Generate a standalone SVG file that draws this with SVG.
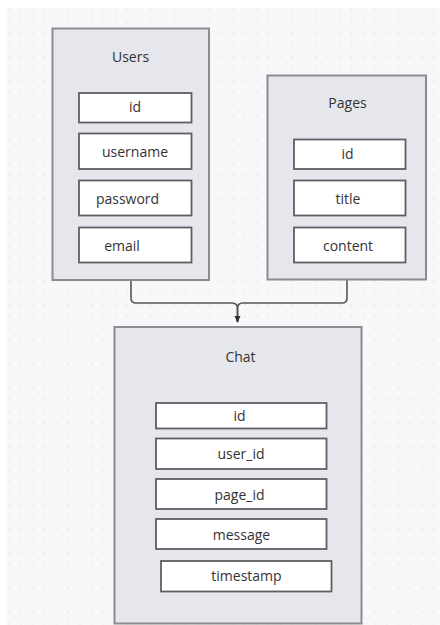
<svg xmlns="http://www.w3.org/2000/svg" width="440" height="625" viewBox="0 0 440 625">
<defs>
<pattern id="dots" x="3" y="4" width="11.8" height="11.8" patternUnits="userSpaceOnUse">
<circle cx="6" cy="6" r="0.8" fill="#dedee3"/>
</pattern>
<marker id="arr" markerWidth="8" markerHeight="8" refX="6" refY="4" orient="auto" markerUnits="userSpaceOnUse">
<path d="M0,1 L7,4 L0,7 Z" fill="#333"/>
</marker>
<style>
.tbl{fill:#e6e7ec;stroke:#8b8b90;stroke-width:2}
.fld{fill:#ffffff;stroke:#5f5f63;stroke-width:1.8}
.t{font-family:"Open Sans","Noto Sans",sans-serif;font-size:14px;fill:#333;text-anchor:middle}
.con{fill:none;stroke:#555;stroke-width:1.6}
</style>
</defs>
<rect x="0" y="0" width="440" height="625" fill="#ffffff"/>
<rect x="7" y="8" width="433" height="617" fill="#f8f8fa"/>
<rect x="7" y="8" width="433" height="617" fill="url(#dots)"/>

<g id="connectors">
<path class="con" d="M131,281 V298 Q131,303 136,303 H232 Q237.5,303 237.5,308.5 V322"/>
<path class="con" d="M347,280 V298 Q347,303 342,303 H243 Q237.5,303 237.5,308.5 V322" marker-end="url(#arr)"/>
</g>

<g id="users">
<rect class="tbl" x="52.5" y="28.5" width="156.5" height="251.5"/>
<text class="t" x="130.5" y="62">Users</text>
<rect class="fld" x="79" y="93" width="112.5" height="29.5"/>
<text class="t" x="135" y="112">id</text>
<rect class="fld" x="79" y="133.5" width="112.5" height="35.5"/>
<text class="t" x="135" y="157">username</text>
<rect class="fld" x="79" y="180.5" width="112.5" height="35"/>
<text class="t" x="127.5" y="204">password</text>
<rect class="fld" x="79" y="227.5" width="112.5" height="35"/>
<text class="t" x="122" y="251">email</text>
</g>

<g id="pages">
<rect class="tbl" x="267.5" y="75.5" width="158.5" height="204"/>
<text class="t" x="347.5" y="108">Pages</text>
<rect class="fld" x="294" y="139.5" width="111.5" height="29.5"/>
<text class="t" x="347.5" y="159">id</text>
<rect class="fld" x="294" y="180.5" width="111.5" height="35"/>
<text class="t" x="348" y="204">title</text>
<rect class="fld" x="294" y="227.5" width="111.5" height="35"/>
<text class="t" x="348" y="251">content</text>
</g>

<g id="chat">
<rect class="tbl" x="114.5" y="327" width="247" height="296.5"/>
<text class="t" x="240.5" y="362">Chat</text>
<rect class="fld" x="156" y="403" width="170.5" height="25.5"/>
<text class="t" x="239.5" y="421">id</text>
<rect class="fld" x="156" y="438.5" width="170.5" height="30.5"/>
<text class="t" x="241" y="459">user_id</text>
<rect class="fld" x="156" y="479" width="170.5" height="30"/>
<text class="t" x="239.5" y="500">page_id</text>
<rect class="fld" x="156" y="519" width="170.5" height="30"/>
<text class="t" x="241.5" y="539.5">message</text>
<rect class="fld" x="161" y="561" width="170.5" height="30.5"/>
<text class="t" x="246.5" y="581">timestamp</text>
</g>
</svg>
